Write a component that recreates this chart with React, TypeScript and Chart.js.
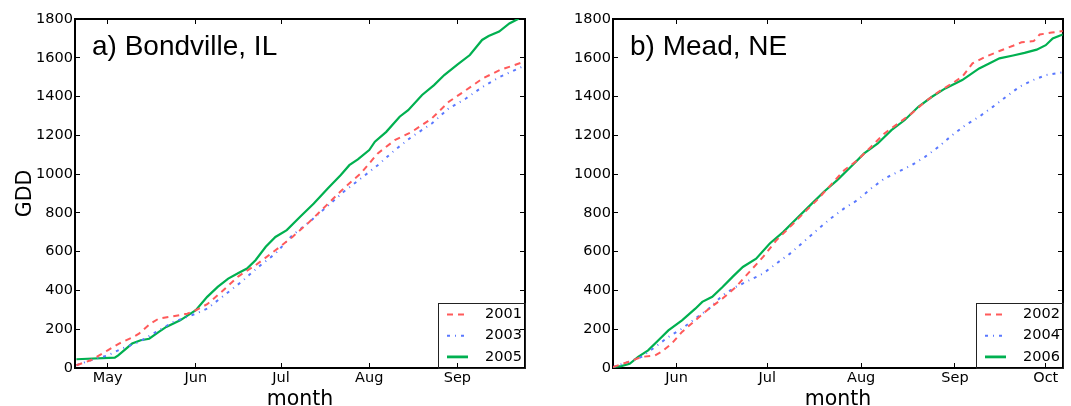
import React, { useEffect, useRef } from "react";
import { Chart, registerables } from "chart.js";

Chart.register(...registerables);

// ---- Panel a) Bondville, IL ----
const bondMonthDays = [121, 152, 182, 213, 244];
const bondMonthLabels = ["May", "Jun", "Jul", "Aug", "Sep"];

const bond2001Days = [110, 115, 121, 125, 130, 132, 136, 139, 144, 149, 152, 156, 161, 167, 173, 180, 186, 192, 198, 204, 210, 216, 222, 228, 235, 241, 247, 253, 259, 268];
const bond2001 = [14, 40, 91, 126, 160, 177, 229, 255, 267, 280, 298, 329, 392, 473, 530, 607, 676, 754, 840, 926, 1003, 1107, 1175, 1218, 1287, 1373, 1433, 1494, 1537, 1582];

const bond2003Days = [110, 115, 121, 126, 132, 138, 144, 152, 156, 162, 168, 174, 180, 186, 192, 198, 204, 210, 216, 222, 228, 235, 241, 247, 253, 259, 268];
const bond2003 = [14, 40, 65, 100, 134, 186, 237, 280, 306, 375, 444, 521, 590, 685, 754, 831, 909, 977, 1046, 1124, 1193, 1261, 1339, 1390, 1451, 1502, 1562];

const bond2005Days = [110, 123.5, 124.7, 129.6, 132.6, 135.6, 139, 141.6, 146.5, 152, 156, 159.7, 163.4, 167, 170, 173, 176.6, 180, 184, 188.7, 193.5, 198.4, 203, 206, 209, 213, 215, 219, 223.7, 226.7, 231.6, 235.8, 239.4, 244, 248.4, 252.7, 255, 258.7, 262.3, 265.3, 268];
const bond2005 = [45, 53, 65, 126, 143, 151, 186, 212, 246, 298, 367, 418, 461, 490, 513, 556, 625, 676, 711, 780, 848, 926, 995, 1046, 1076, 1124, 1167, 1218, 1296, 1330, 1408, 1459, 1511, 1565, 1614, 1692, 1712, 1735, 1777, 1800, 1840];

// ---- Panel b) Mead, NE ----
const meadMonthDays = [152, 182, 213, 244, 274];
const meadMonthLabels = ["Jun", "Jul", "Aug", "Sep", "Oct"];

const mead2002Days = [131, 136, 140.4, 144.9, 147, 150.4, 153.8, 158.2, 162.7, 167.2, 171.6, 176.1, 180.6, 185, 189.5, 193.9, 198.4, 202.9, 207.4, 211.8, 216.3, 220.7, 225.2, 229.7, 234.1, 238.6, 243.1, 246.4, 249.8, 254.2, 258.7, 263.2, 266, 270, 272, 276, 279.6];
const mead2002 = [5, 31, 57, 65, 83, 126, 186, 246, 306, 358, 418, 496, 573, 659, 728, 797, 866, 943, 1020, 1072, 1141, 1210, 1261, 1313, 1373, 1425, 1468, 1502, 1571, 1606, 1635, 1662, 1680, 1686, 1720, 1730, 1738];

const mead2004Days = [131, 136, 140.4, 144.9, 149.3, 153.8, 158.2, 162.7, 167.2, 171.6, 176.1, 180.6, 185, 189.5, 193.9, 198.4, 202.9, 207.4, 211.8, 216.3, 220.7, 225.2, 229.7, 234.1, 238.6, 243.1, 247.5, 252, 256.5, 260.9, 265.4, 269.8, 274.2, 279.6];
const mead2004 = [5, 31, 57, 108, 160, 203, 255, 306, 375, 418, 453, 487, 539, 590, 650, 711, 771, 823, 866, 926, 977, 1012, 1046, 1089, 1141, 1201, 1253, 1296, 1347, 1399, 1451, 1485, 1511, 1525];

const mead2006Days = [131, 133.7, 136.5, 139.3, 142.6, 146, 149.3, 153.8, 158.2, 160.5, 163.8, 167.2, 170.5, 173.9, 178.3, 182.8, 187.3, 191.7, 196.2, 200.7, 205.1, 209.6, 214, 218.5, 223, 227.4, 231.9, 236.4, 240.8, 246.4, 252, 255.3, 258.7, 263.2, 267, 271, 274, 276.3, 279.6];
const mead2006 = [5, 10, 22, 57, 91, 143, 194, 246, 306, 341, 367, 418, 470, 521, 564, 642, 702, 771, 840, 909, 969, 1038, 1107, 1158, 1227, 1279, 1347, 1399, 1442, 1485, 1545, 1571, 1597, 1612, 1625, 1642, 1665, 1700, 1720];

const seriesColors = ["#ff5a5a", "#5a78ff", "#00b050"];
const seriesDashes: number[][] = [[6, 5], [3, 5, 1, 5], []];
const seriesWidths = [2, 2, 2.2];

const FONT = "'DejaVu Sans', sans-serif";

const panelLabelPlugin = {
  id: "panelLabel",
  afterDatasetsDraw(chart: any, _args: any, opts: any) {
    const { ctx, chartArea } = chart;
    ctx.save();
    ctx.font = "28px 'Liberation Sans', Arial, sans-serif";
    ctx.fillStyle = "#000";
    ctx.textAlign = "left";
    ctx.textBaseline = "alphabetic";
    ctx.fillText(opts.text, chartArea.left + 17, chartArea.top + 36);
    ctx.restore();
  },
};

const insideLegendPlugin = {
  id: "insideLegend",
  afterDraw(chart: any) {
    const { ctx, chartArea } = chart;
    const w = 87;
    const h = 65;
    const x0 = Math.round(chartArea.right - w);
    const y0 = Math.round(chartArea.bottom - h);
    ctx.save();
    ctx.strokeStyle = "#222";
    ctx.lineWidth = 1;
    ctx.strokeRect(x0 + 0.5, y0 + 0.5, w, h);
    chart.data.datasets.forEach((ds: any, i: number) => {
      const y = y0 + 11.5 + i * 21.2;
      ctx.strokeStyle = ds.borderColor;
      ctx.lineWidth = i === 2 ? 2.8 : 2;
      ctx.setLineDash(ds.borderDash || []);
      ctx.beginPath();
      ctx.moveTo(x0 + 9, y);
      ctx.lineTo(x0 + 30, y);
      ctx.stroke();
      ctx.setLineDash([]);
      ctx.fillStyle = "#000";
      ctx.font = `14.5px ${FONT}`;
      ctx.textAlign = "left";
      ctx.textBaseline = "middle";
      ctx.fillText(ds.label, x0 + 47, y);
    });
    ctx.restore();
  },
};

type PanelCfg = {
  label: string;
  xMin: number;
  xMax: number;
  monthDays: number[];
  monthLabels: string[];
  names: string[];
  days: number[][];
  values: number[][];
  yWidth: number;
  rightPad: number;
  showYTitle: boolean;
};

const panelA: PanelCfg = {
  label: "a) Bondville, IL",
  xMin: 109.5,
  xMax: 267.8,
  monthDays: bondMonthDays,
  monthLabels: bondMonthLabels,
  names: ["2001", "2003", "2005"],
  days: [bond2001Days, bond2003Days, bond2005Days],
  values: [bond2001, bond2003, bond2005],
  yWidth: 75,
  rightPad: 15,
  showYTitle: true,
};

const panelB: PanelCfg = {
  label: "b) Mead, NE",
  xMin: 131,
  xMax: 279.7,
  monthDays: meadMonthDays,
  monthLabels: meadMonthLabels,
  names: ["2002", "2004", "2006"],
  days: [mead2002Days, mead2004Days, mead2006Days],
  values: [mead2002, mead2004, mead2006],
  yWidth: 73,
  rightPad: 8,
  showYTitle: false,
};

function buildConfig(cfg: PanelCfg): any {
  const grid = {
    drawOnChartArea: false,
    drawTicks: true,
    tickLength: -5,
    tickColor: "#000",
    tickWidth: 1,
  };
  const border = { display: true, color: "#000", width: 2 };
  const tickFont = { family: FONT, size: 14.5 };
  const setMonthTicks = (s: any) => {
    s.ticks = cfg.monthDays.map((v) => ({ value: v }));
  };
  return {
    type: "line",
    data: {
      datasets: cfg.names.map((name, i) => ({
        label: name,
        data: cfg.days[i].map((d, j) => ({ x: d, y: cfg.values[i][j] })),
        borderColor: seriesColors[i],
        borderDash: seriesDashes[i],
        borderWidth: seriesWidths[i],
        borderCapStyle: "butt",
        pointRadius: 0,
        tension: 0,
        fill: false,
        xAxisID: "x",
        yAxisID: "y",
      })),
    },
    options: {
      responsive: false,
      animation: false,
      events: [],
      layout: { padding: { top: 19, right: cfg.rightPad, bottom: 0, left: 0 } },
      plugins: {
        legend: { display: false },
        tooltip: { enabled: false },
        panelLabel: { text: cfg.label },
      },
      scales: {
        x: {
          type: "linear",
          position: "bottom",
          min: cfg.xMin,
          max: cfg.xMax,
          afterBuildTicks: setMonthTicks,
          ticks: {
            callback: (_v: any, i: number) => cfg.monthLabels[i],
            font: tickFont,
            color: "#000",
            padding: 7,
            maxRotation: 0,
            autoSkip: false,
          },
          grid,
          border,
          title: {
            display: true,
            text: "month",
            color: "#000",
            font: { family: FONT, size: 20.5, lineHeight: 1 },
            padding: { top: 0, bottom: -4 },
          },
          afterFit: (s: any) => {
            s.height = 38;
          },
        },
        x2: {
          type: "linear",
          position: "top",
          min: cfg.xMin,
          max: cfg.xMax,
          afterBuildTicks: setMonthTicks,
          ticks: { display: false },
          grid,
          border,
          afterFit: (s: any) => {
            s.height = 0;
          },
        },
        y: {
          type: "linear",
          position: "left",
          min: 0,
          max: 1800,
          ticks: {
            stepSize: 200,
            callback: (v: any) => String(v),
            font: tickFont,
            color: "#000",
            padding: 7,
          },
          grid,
          border,
          title: {
            display: cfg.showYTitle,
            text: "GDD",
            color: "#000",
            font: { family: FONT, size: 20.5, lineHeight: 1 },
            padding: { top: 15, bottom: 0 },
          },
          afterFit: (s: any) => {
            s.width = cfg.yWidth;
          },
        },
        y2: {
          type: "linear",
          position: "right",
          min: 0,
          max: 1800,
          ticks: { display: false, stepSize: 200 },
          grid,
          border,
          afterFit: (s: any) => {
            s.width = 0;
          },
        },
      },
    },
    plugins: [panelLabelPlugin, insideLegendPlugin],
  };
}

function Panel({ cfg, left, width }: { cfg: PanelCfg; left: number; width: number }) {
  const ref = useRef<HTMLCanvasElement>(null);
  useEffect(() => {
    if (!ref.current) return;
    const chart = new Chart(ref.current, buildConfig(cfg));
    return () => chart.destroy();
  }, [cfg]);
  return (
    <canvas
      ref={ref}
      width={width}
      height={406}
      style={{ position: "absolute", left, top: 0, width, height: 406 }}
    />
  );
}

export default function App() {
  return (
    <div
      style={{
        position: "absolute",
        left: 0,
        top: 0,
        width: 1071,
        height: 406,
        background: "#fff",
        overflow: "hidden",
      }}
    >
      <Panel cfg={panelA} left={0} width={540} />
      <Panel cfg={panelB} left={540} width={531} />
    </div>
  );
}
